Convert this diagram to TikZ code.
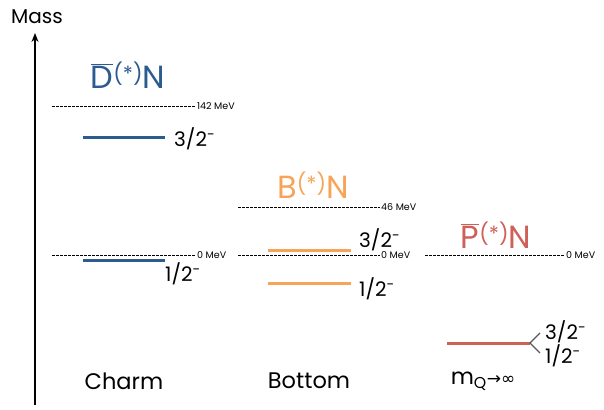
\documentclass[tikz,border=0pt]{standalone}
\usepackage{fontspec}
\setmainfont{Poppins}[Scale=1]
\newfontfamily\symfont{DejaVu Sans}
\usetikzlibrary{arrows.meta}
\definecolor{cblue}{RGB}{44,92,143}
\definecolor{corange}{RGB}{246,165,88}
\definecolor{cred}{RGB}{206,96,88}
\newcommand\barlet[1]{$\overline{\mbox{#1}}$}
\newcommand\starsup{{\fontsize{21}{21}\selectfont\raisebox{7pt}{(*)}}}
\tikzset{
  lvl/.style={line width=3pt},
  dsh/.style={black, line width=0.6pt, dash pattern=on 2.5pt off 1.5pt},
  mev/.style={anchor=west, inner sep=1pt, font=\fontsize{9.5}{10}\selectfont},
  jp/.style={anchor=west, inner sep=0pt, font=\fontsize{20}{21}\selectfont},
  title/.style={inner sep=0pt, font=\fontsize{32}{36}\selectfont},
  cat/.style={inner sep=0pt, font=\fontsize{22.5}{24}\selectfont},
}
\begin{document}
\begin{tikzpicture}[x=1pt,y=-1pt]
\useasboundingbox (0,0) rectangle (604,409);
% axis
\coordinate (ax0) at (35,405);
\coordinate (ax1) at (35,33);
\draw[line width=1.3pt,-{Stealth[length=9pt,width=7pt]}] (ax0) -- (ax1);
\node[cat,font=\fontsize{20}{22}\selectfont] (mass) at (37,17) {Mass};
% Charm
\node[title,text=cblue] (dn) at (128,75) {\barlet{D}\starsup N};
\coordinate (d142a) at (52,106); \coordinate (d142b) at (196,106);
\draw[dsh] (d142a) -- (d142b);
\node[mev] (l142) at (d142b) {142 MeV};
\coordinate (c3a) at (83,137); \coordinate (c3b) at (165,137);
\draw[lvl,cblue] (c3a) -- (c3b);
\node[jp] (c3l) at (174,139) {3/2\textsuperscript{-}};
\coordinate (d0a) at (52,255); \coordinate (d0b) at (196,255);
\draw[dsh] (d0a) -- (d0b);
\node[mev] (l0a) at (d0b) {0 MeV};
\coordinate (c1a) at (83,260); \coordinate (c1b) at (165,260);
\draw[lvl,cblue] (c1a) -- (c1b);
\node[jp] (c1l) at (165,274) {1/2\textsuperscript{-}};
\node[cat] (charm) at (124,381) {Charm};
% Bottom
\node[title,text=corange] (bn) at (313,185) {B\starsup N};
\coordinate (b46a) at (238,207); \coordinate (b46b) at (380,207);
\draw[dsh] (b46a) -- (b46b);
\node[mev] (l46) at (b46b) {46 MeV};
\coordinate (b0a) at (238,255); \coordinate (b0b) at (380,255);
\draw[dsh] (b0a) -- (b0b);
\node[mev] (l0b) at (b0b) {0 MeV};
\coordinate (o3a) at (268,250); \coordinate (o3b) at (351,250);
\draw[lvl,corange] (o3a) -- (o3b);
\node[jp] (o3l) at (359,240) {3/2\textsuperscript{-}};
\coordinate (o1a) at (268,283); \coordinate (o1b) at (351,283);
\draw[lvl,corange] (o1a) -- (o1b);
\node[jp] (o1l) at (359,289) {1/2\textsuperscript{-}};
\node[cat] (bottom) at (309,381) {Bottom};
% infinite mass
\node[title,text=cred] (pn) at (496,235) {\barlet{P}\starsup N};
\coordinate (p0a) at (425,255); \coordinate (p0b) at (565,255);
\draw[dsh] (p0a) -- (p0b);
\node[mev] (l0c) at (p0b) {0 MeV};
\coordinate (r1a) at (447,343); \coordinate (r1b) at (530,343);
\draw[lvl,cred] (r1a) -- (r1b);
\coordinate (fu) at (540,333); \coordinate (fd) at (540,353);
\draw[line width=1.2pt,gray!70!black] (fu) -- (r1b) -- (fd);
\node[jp] (r3l) at (545,332) {3/2\textsuperscript{-}};
\node[jp] (r1l) at (545,356) {1/2\textsuperscript{-}};
\node[cat] (inf) at (483,381) {m\textsubscript{Q}{\symfont\fontsize{17}{18}\selectfont →∞}};
\end{tikzpicture}
\end{document}
